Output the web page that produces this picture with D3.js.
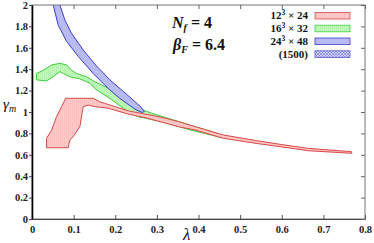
<!DOCTYPE html>
<html>
<head>
<meta charset="utf-8">
<script src="https://cdn.jsdelivr.net/npm/d3@7"></script>
<style>
  body { margin: 0; background: #fff; }
</style>
</head>
<body>
<div class="board"></div>
<script>
// chart size
var width = 374;
var height = 243;
var margin = {left: 32, right: 9, top: 5, bottom: 24};
var serif = '"Liberation Serif"';

// axis ticks
var xTicks = [0, 0.1, 0.2, 0.3, 0.4, 0.5, 0.6, 0.7, 0.8];
var yTicks = [0, 0.2, 0.4, 0.6, 0.8, 1, 1.2, 1.4, 1.6, 1.8, 2];

// band outlines, [lambda, gamma], upper edge left->right then lower edge right->left
var red12Upper = [[0.035, 0.666], [0.035, 0.754], [0.047, 0.83], [0.059, 0.956], [0.071, 1.05],
  [0.081, 1.128], [0.147, 1.128], [0.163, 1.095], [0.175, 1.08], [0.2, 1.05], [0.232, 1.01],
  [0.272, 0.98], [0.312, 0.95], [0.352, 0.91], [0.392, 0.863], [0.46, 0.785], [0.54, 0.732],
  [0.596, 0.698], [0.664, 0.66], [0.768, 0.629]];
var red12Lower = [[0.768, 0.614], [0.664, 0.638], [0.596, 0.676], [0.54, 0.706], [0.46, 0.754],
  [0.392, 0.832], [0.352, 0.863], [0.272, 0.947], [0.232, 0.98], [0.183, 1.035], [0.151, 1.05],
  [0.135, 1.065], [0.123, 1.05], [0.119, 0.956], [0.115, 0.862], [0.099, 0.769], [0.091, 0.738],
  [0.087, 0.666]];

var green16Upper = [[0.011, 1.36], [0.027, 1.39], [0.047, 1.44], [0.067, 1.455], [0.083, 1.44],
  [0.095, 1.39], [0.107, 1.36], [0.131, 1.33], [0.151, 1.283], [0.192, 1.206], [0.232, 1.096],
  [0.255, 1.035], [0.288, 0.988], [0.328, 0.94], [0.392, 0.863], [0.43, 0.82], [0.464, 0.77]];
var green16Lower = [[0.464, 0.754], [0.42, 0.794], [0.38, 0.832], [0.312, 0.91], [0.255, 0.956],
  [0.232, 1.0], [0.192, 1.113], [0.151, 1.22], [0.139, 1.27], [0.115, 1.31], [0.091, 1.33],
  [0.075, 1.36], [0.067, 1.377], [0.051, 1.33], [0.035, 1.29], [0.011, 1.30]];

var blue24Upper = [[0.062, 2.15], [0.067, 2.0], [0.079, 1.86], [0.095, 1.735], [0.123, 1.58],
  [0.155, 1.43], [0.19, 1.29], [0.22, 1.19], [0.245, 1.105], [0.262, 1.045], [0.27, 1.005]];
var blue24Lower = [[0.265, 0.995], [0.25, 1.02], [0.235, 1.06], [0.21, 1.13], [0.183, 1.22],
  [0.147, 1.36], [0.111, 1.52], [0.083, 1.66], [0.07, 1.76], [0.063, 1.81], [0.051, 2.0],
  [0.047, 2.15]];

var legendLabels = [["12", "3", " \u00d7 24"], ["16", "3", " \u00d7 32"], ["24", "3", " \u00d7 48"], ["(1500)", "", ""]];
var legendFills = ["url(#stripeRed)", "url(#stripeGreen)", "#b8baf2", "url(#hatch)"];
var legendStrokes = ["#d84848", "#3ccc3c", "#3c3cc8", "#5a5ad0"];

var svg = d3.select('.board').append('svg')
  .attr('width', width)
  .attr('height', height);

var x = d3.scaleLinear().domain([0, 0.8]).range([margin.left, width - margin.right]);
var y = d3.scaleLinear().domain([0, 2]).range([height - margin.bottom, margin.top]);

var defs = svg.append('defs');
defs.append('clipPath').attr('id', 'plot')
  .append('rect')
  .attr('x', x(0)).attr('y', y(2))
  .attr('width', x(0.8) - x(0)).attr('height', y(0) - y(2));

var hatch = defs.append('pattern').attr('id', 'hatch')
  .attr('width', 3).attr('height', 3).attr('patternUnits', 'userSpaceOnUse');
hatch.append('rect').attr('width', 3).attr('height', 3).attr('fill', '#d8daf8');
hatch.append('path').attr('d', 'M0,0 L3,3 M3,0 L0,3').attr('stroke', '#6a6ad8').attr('stroke-width', 0.6);

// faint vertical stripes like the original fill
var makeStripes = function(id, base, stripe) {
  var p = defs.append('pattern').attr('id', id)
    .attr('width', 2).attr('height', 4).attr('patternUnits', 'userSpaceOnUse');
  p.append('rect').attr('width', 2).attr('height', 4).attr('fill', base);
  p.append('rect').attr('width', 1).attr('height', 4).attr('fill', stripe);
};
makeStripes('stripeRed', '#ffcccc', '#ffbebe');
makeStripes('stripeGreen', '#c2f8bc', '#b4f3ac');

var line = d3.line()
  .x(function(d) { return x(d[0]); })
  .y(function(d) { return y(d[1]); });

var bands = svg.append('g').attr('clip-path', 'url(#plot)');

var drawBand = function(upper, lower, fill, stroke) {
  bands.append('path')
    .attr('d', line(upper.concat(lower)) + 'Z')
    .attr('fill', fill)
    .attr('stroke', stroke)
    .attr('stroke-width', 1)
    .attr('stroke-linejoin', 'round');
};

drawBand(green16Upper, green16Lower, legendFills[1], legendStrokes[1]);
drawBand(red12Upper, red12Lower, legendFills[0], legendStrokes[0]);
drawBand(blue24Upper, blue24Lower, legendFills[2], legendStrokes[2]);

// frame
svg.append('rect')
  .attr('x', x(0)).attr('y', y(2))
  .attr('width', x(0.8) - x(0)).attr('height', y(0) - y(2))
  .attr('fill', 'none').attr('stroke', '#777').attr('stroke-width', 1);

// bottom axis, inward ticks
var xAxis = svg.append('g')
  .attr('transform', 'translate(0,' + y(0) + ')')
  .call(d3.axisBottom(x).tickValues(xTicks).tickSizeInner(-4).tickSizeOuter(0).tickPadding(7)
    .tickFormat(function(d) { return d === 0 ? '0' : d3.format('.1f')(d); }));
xAxis.select('.domain').attr('stroke', '#444').attr('stroke-width', 1.2);
xAxis.selectAll('.tick line').attr('stroke', '#555');
xAxis.selectAll('text').attr('font-size', 10.5).attr('font-weight', 'bold').attr('fill', '#222');

// top ticks
svg.append('g')
  .attr('transform', 'translate(0,' + y(2) + ')')
  .call(d3.axisTop(x).tickValues(xTicks).tickSizeInner(-4).tickSizeOuter(0).tickFormat(''))
  .call(function(g) { g.select('.domain').remove(); g.selectAll('line').attr('stroke', '#666'); });

// left axis
var yAxis = svg.append('g')
  .attr('transform', 'translate(' + x(0) + ',0)')
  .call(d3.axisLeft(y).tickValues(yTicks).tickSizeInner(3).tickSizeOuter(0).tickPadding(1)
    .tickFormat(function(d) { return d3.format('~g')(d); }));
yAxis.select('.domain').attr('stroke', '#000').attr('stroke-width', 1.6);
yAxis.selectAll('.tick line').attr('stroke', '#444');
yAxis.selectAll('text').attr('font-size', 10.5).attr('font-weight', 'bold').attr('fill', '#222');

// right ticks
svg.append('g')
  .attr('transform', 'translate(' + x(0.8) + ',0)')
  .call(d3.axisRight(y).tickValues(yTicks).tickSizeInner(-4).tickSizeOuter(0).tickFormat(''))
  .call(function(g) { g.select('.domain').remove(); g.selectAll('line').attr('stroke', '#666'); });

// axis titles
var gm = svg.append('text').attr('x', 3).attr('y', 109)
  .attr('font-size', 15).attr('font-style', 'italic').attr('fill', '#111');
gm.append('tspan').text('\u03b3');
gm.append('tspan').attr('font-size', 10).attr('dy', 3).text('m');

svg.append('text').attr('x', 183).attr('y', 240)
  .attr('font-size', 17).attr('font-style', 'italic').attr('fill', '#111').text('\u03bb');

// N_f and beta_F
var t1 = svg.append('text').attr('x', 172).attr('y', 28)
  .attr('font-size', 16).attr('font-weight', 'bold').attr('fill', '#111');
t1.append('tspan').attr('font-style', 'italic').text('N');
t1.append('tspan').attr('font-style', 'italic').attr('font-size', 10).attr('dy', 3).text('f');
t1.append('tspan').attr('dy', -3).text(' = 4');

var t2 = svg.append('text').attr('x', 173).attr('y', 50)
  .attr('font-size', 16).attr('font-weight', 'bold').attr('fill', '#111');
t2.append('tspan').attr('font-style', 'italic').text('\u03b2');
t2.append('tspan').attr('font-style', 'italic').attr('font-size', 10).attr('dy', 3).text('F');
t2.append('tspan').attr('dy', -3).text(' = 6.4');

// legend
var legend = svg.append('g').selectAll('g').data(legendLabels)
  .enter().append('g')
  .attr('transform', function(d, i) { return 'translate(0,' + (15.7 + i * 12.8) + ')'; });

legend.append('rect')
  .attr('x', 315).attr('y', -3.3).attr('width', 35).attr('height', 6.6)
  .attr('fill', function(d, i) { return legendFills[i]; })
  .attr('stroke', function(d, i) { return legendStrokes[i]; })
  .attr('stroke-width', 0.8);

var lt = legend.append('text')
  .attr('x', 308).attr('y', 3.5)
  .attr('text-anchor', 'end')
  .attr('font-size', 11).attr('font-weight', 'bold').attr('fill', '#111');
lt.append('tspan').text(function(d) { return d[0]; });
lt.append('tspan').attr('font-size', 7.5).attr('dy', -4).text(function(d) { return d[1]; });
lt.append('tspan').attr('dy', 4).text(function(d) { return d[2]; });

// serif everywhere
svg.selectAll('text').style('font-family', serif);
</script>
</body>
</html>
